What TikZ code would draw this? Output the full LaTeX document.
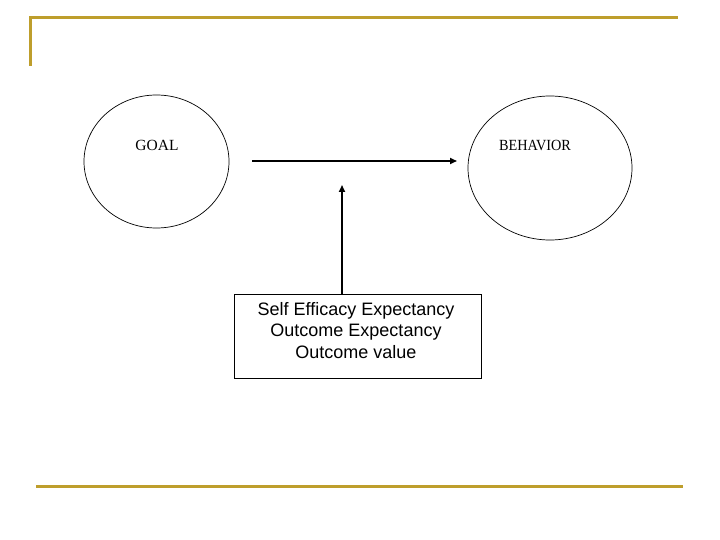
\documentclass[tikz,border=0pt]{standalone}
\usepackage{fontspec}
\setmainfont{Liberation Serif}
\newfontfamily\arialf{Liberation Sans}
\usetikzlibrary{shapes.geometric,arrows.meta}
\definecolor{gold}{RGB}{190,158,44}
\begin{document}
\begin{tikzpicture}[x=1pt,y=-1pt,
  bar/.style={draw=gold,line width=3pt},
  oval/.style={draw,ellipse,line width=0.7pt,inner sep=0pt},
  arr/.style={line width=1.6pt,-{Triangle[length=7pt,width=6pt]}},
  lbl/.style={font=\fontsize{15.5}{18}\selectfont},
  boxfont/.style={font=\arialf\fontsize{18}{21.5}\selectfont},
  factbox/.style={draw,line width=0.8pt,minimum width=247pt,minimum height=84pt,inner sep=0pt}]
\useasboundingbox (0,0) rectangle (720,540);
\draw[bar] (30,66) -- (30,18) -- (678,18);
\draw[bar] (36,486) -- (683,486);
\node[oval,minimum width=145pt,minimum height=133pt] (goal) at (156.5,161.5) {};
\node[lbl] (goalt) at (157,145) {GOAL};
\node[oval,minimum width=164pt,minimum height=144pt] (beh) at (550,168) {};
\node[lbl,xscale=0.92] (beht) at (535,145) {BEHAVIOR};
\node[factbox] (box) at (357.5,336) {};
\node[boxfont,align=center] (boxt) at (356,330.5) {Self Efficacy Expectancy\\Outcome Expectancy\\Outcome value};
\coordinate (hs) at (252,161);
\coordinate (he) at (457,161);
\coordinate (ve) at (342,185);
\draw[arr] (hs) -- (he);
\draw[arr] (box.north -| ve) -- (ve);
\end{tikzpicture}
\end{document}
